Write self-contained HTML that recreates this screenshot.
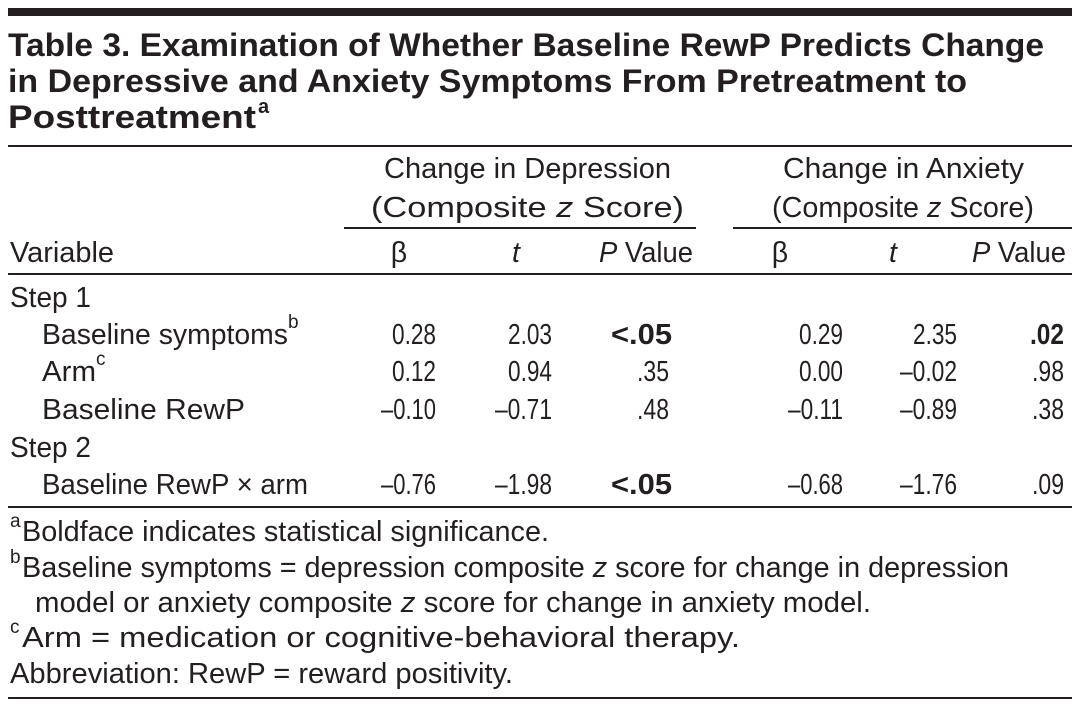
<!DOCTYPE html>
<html><head><meta charset="utf-8"><style>
html,body{margin:0;padding:0;background:#fff;}
svg{display:block;}
text{font-family:"Liberation Sans",sans-serif;fill:#231f20;font-size:28.5px;}
.b{font-weight:bold;}
.ti{font-weight:bold;font-size:32px;}
.sup{font-size:19px;}
</style></head><body>
<svg width="1077" height="711" viewBox="0 0 1077 711" xmlns="http://www.w3.org/2000/svg">
<rect x="8" y="8" width="1064" height="8" fill="#231f20"/>
<text class="ti" x="8" y="56" textLength="1036" lengthAdjust="spacingAndGlyphs">Table 3. Examination of Whether Baseline RewP Predicts Change</text>
<text class="ti" x="8" y="92" textLength="959" lengthAdjust="spacingAndGlyphs">in Depressive and Anxiety Symptoms From Pretreatment to</text>
<text class="ti" x="8" y="128" textLength="248" lengthAdjust="spacingAndGlyphs">Posttreatment</text>
<text class="ti" x="258" y="113" style="font-size:20px">a</text>
<rect x="8" y="145" width="1064" height="2" fill="#231f20"/>

<text x="384" y="178" textLength="287" lengthAdjust="spacingAndGlyphs">Change in Depression</text>
<text x="371" y="217" textLength="313" lengthAdjust="spacingAndGlyphs">(Composite <tspan font-style="italic">z</tspan> Score)</text>
<text x="783" y="178" textLength="241" lengthAdjust="spacingAndGlyphs">Change in Anxiety</text>
<text x="772" y="217" textLength="262" lengthAdjust="spacingAndGlyphs">(Composite <tspan font-style="italic">z</tspan> Score)</text>
<rect x="344" y="227" width="352" height="2" fill="#231f20"/>
<rect x="733" y="227" width="339" height="2" fill="#231f20"/>

<text x="10" y="262" textLength="104" lengthAdjust="spacingAndGlyphs">Variable</text>
<text x="399" y="262" text-anchor="middle">β</text>
<text x="516" y="262" text-anchor="middle" font-style="italic">t</text>
<text x="693" y="262" text-anchor="end" textLength="94" lengthAdjust="spacingAndGlyphs"><tspan font-style="italic">P</tspan> Value</text>
<text x="780" y="262" text-anchor="middle">β</text>
<text x="893" y="262" text-anchor="middle" font-style="italic">t</text>
<text x="1066" y="262" text-anchor="end" textLength="94" lengthAdjust="spacingAndGlyphs"><tspan font-style="italic">P</tspan> Value</text>
<rect x="8" y="273" width="1064" height="2" fill="#231f20"/>

<text x="10" y="307" textLength="81" lengthAdjust="spacingAndGlyphs">Step 1</text>
<text x="42" y="344" textLength="246" lengthAdjust="spacingAndGlyphs">Baseline symptoms</text><text class="sup" x="288" y="328">b</text>
<text x="42" y="381" textLength="54" lengthAdjust="spacingAndGlyphs">Arm</text><text class="sup" x="96" y="365">c</text>
<text x="42" y="419" textLength="203" lengthAdjust="spacingAndGlyphs">Baseline RewP</text>
<text x="10" y="457" textLength="81" lengthAdjust="spacingAndGlyphs">Step 2</text>
<text x="42" y="494" textLength="266" lengthAdjust="spacingAndGlyphs">Baseline RewP × arm</text>

<g text-anchor="end">
<text x="436" y="344" textLength="44" lengthAdjust="spacingAndGlyphs">0.28</text>
<text x="552" y="344" textLength="44" lengthAdjust="spacingAndGlyphs">2.03</text>
<text class="b" x="672" y="344" textLength="61" lengthAdjust="spacingAndGlyphs">&lt;.05</text>
<text x="843" y="344" textLength="44" lengthAdjust="spacingAndGlyphs">0.29</text>
<text x="957" y="344" textLength="44" lengthAdjust="spacingAndGlyphs">2.35</text>
<text class="b" x="1064" y="344" textLength="34" lengthAdjust="spacingAndGlyphs">.02</text>

<text x="436" y="381" textLength="44" lengthAdjust="spacingAndGlyphs">0.12</text>
<text x="552" y="381" textLength="44" lengthAdjust="spacingAndGlyphs">0.94</text>
<text x="669" y="381" textLength="32" lengthAdjust="spacingAndGlyphs">.35</text>
<text x="843" y="381" textLength="44" lengthAdjust="spacingAndGlyphs">0.00</text>
<text x="957" y="381" textLength="57" lengthAdjust="spacingAndGlyphs">–0.02</text>
<text x="1064" y="381" textLength="32" lengthAdjust="spacingAndGlyphs">.98</text>

<text x="436" y="419" textLength="55" lengthAdjust="spacingAndGlyphs">–0.10</text>
<text x="552" y="419" textLength="57" lengthAdjust="spacingAndGlyphs">–0.71</text>
<text x="669" y="419" textLength="32" lengthAdjust="spacingAndGlyphs">.48</text>
<text x="843" y="419" textLength="55" lengthAdjust="spacingAndGlyphs">–0.11</text>
<text x="957" y="419" textLength="57" lengthAdjust="spacingAndGlyphs">–0.89</text>
<text x="1064" y="419" textLength="32" lengthAdjust="spacingAndGlyphs">.38</text>

<text x="436" y="494" textLength="55" lengthAdjust="spacingAndGlyphs">–0.76</text>
<text x="552" y="494" textLength="57" lengthAdjust="spacingAndGlyphs">–1.98</text>
<text class="b" x="672" y="494" textLength="61" lengthAdjust="spacingAndGlyphs">&lt;.05</text>
<text x="843" y="494" textLength="55" lengthAdjust="spacingAndGlyphs">–0.68</text>
<text x="957" y="494" textLength="57" lengthAdjust="spacingAndGlyphs">–1.76</text>
<text x="1064" y="494" textLength="32" lengthAdjust="spacingAndGlyphs">.09</text>
</g>
<rect x="8" y="506" width="1064" height="2" fill="#231f20"/>

<text class="sup" x="10" y="527">a</text>
<text x="22" y="541" textLength="527" lengthAdjust="spacingAndGlyphs">Boldface indicates statistical significance.</text>
<text class="sup" x="10" y="563">b</text>
<text x="22" y="577" textLength="987" lengthAdjust="spacingAndGlyphs">Baseline symptoms = depression composite <tspan font-style="italic">z</tspan> score for change in depression</text>
<text x="35" y="612" textLength="836" lengthAdjust="spacingAndGlyphs">model or anxiety composite <tspan font-style="italic">z</tspan> score for change in anxiety model.</text>
<text class="sup" x="10" y="633">c</text>
<text x="22" y="647" textLength="718" lengthAdjust="spacingAndGlyphs">Arm = medication or cognitive-behavioral therapy.</text>
<text x="10" y="683" textLength="503" lengthAdjust="spacingAndGlyphs">Abbreviation: RewP = reward positivity.</text>
<rect x="8" y="697" width="1064" height="2" fill="#231f20"/>
</svg>
</body></html>
